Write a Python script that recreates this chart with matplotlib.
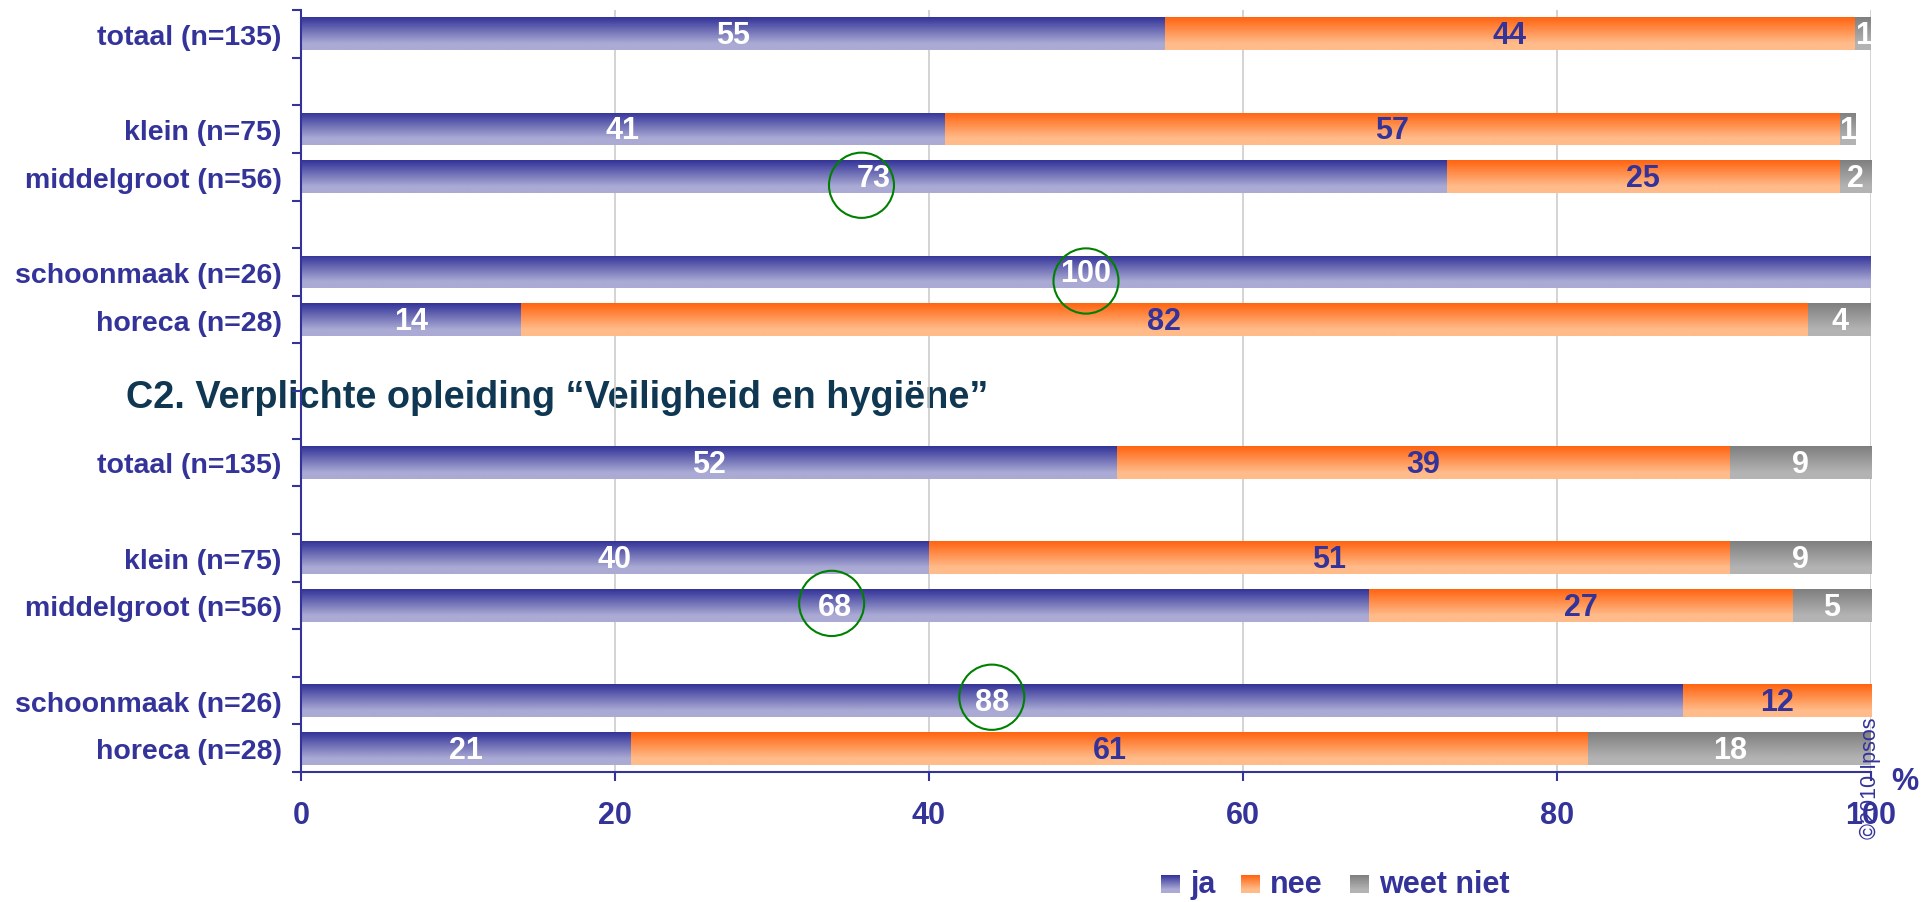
import numpy as np
import matplotlib.pyplot as plt
from matplotlib.patches import Ellipse
from matplotlib.colors import to_rgb

plt.rcParams['font.family'] = ['Liberation Sans', 'DejaVu Sans']

# categorieën, zelfde volgorde in beide blokken
categories = ['totaal (n=135)', 'klein (n=75)', 'middelgroot (n=56)',
              'schoonmaak (n=26)', 'horeca (n=28)']
rows_top = [0, 2, 3, 5, 6]
rows_bottom = [9, 11, 12, 14, 15]

# bovenste blok
ja_top = [55, 41, 73, 100, 14]
nee_top = [44, 57, 25, 0, 82]
weetniet_top = [1, 1, 2, 0, 4]

# C2. Verplichte opleiding "Veiligheid en hygiëne"
ja_bottom = [52, 40, 68, 88, 21]
nee_bottom = [39, 51, 27, 12, 61]
weetniet_bottom = [9, 9, 5, 0, 18]

series = ['ja', 'nee', 'weet niet']
grad_top = ['#333399', '#ff6410', '#7f7f7f']
grad_bottom = ['#aaaad4', '#ffbb8a', '#b3b3b3']
label_colors = ['white', '#333399', 'white']

# omcirkelde waarden (rij, x-midden)
circle_rows = [3.18, 5.19, 11.96, 13.93]
circle_x = [35.7, 50.0, 33.8, 44.0]

xticks = [0, 20, 40, 60, 80, 100]
title = 'C2. Verplichte opleiding \u201cVeiligheid en hygi\u00ebne\u201d'

blue = '#333399'
W, H = 1928, 903


def gradient(top, bottom, n=64):
    t = np.clip(np.linspace(0, 1, n) / 0.8, 0, 1)
    c0, c1 = np.array(to_rgb(top)), np.array(to_rgb(bottom))
    return (c0 + (c1 - c0) * t[:, None])[:, None, :]


fig = plt.figure(figsize=(W / 100, H / 100), dpi=100)
ax = fig.add_axes([301 / W, (H - 773) / H, 1570 / W, 762 / H])

rows = rows_top + rows_bottom
data = [ja_top + ja_bottom, nee_top + nee_bottom, weetniet_top + weetniet_bottom]

left = np.zeros(len(rows))
for k, vals in enumerate(data):
    vals = np.array(vals, dtype=float)
    bars = ax.barh(rows, vals, left=left, height=0.69, color='none',
                   edgecolor='none', zorder=2)
    g = gradient(grad_top[k], grad_bottom[k])
    for bar, v in zip(bars, vals):
        if v <= 0:
            continue
        x0, y0 = bar.get_xy()
        im = ax.imshow(g, extent=(x0, x0 + bar.get_width(), y0 + bar.get_height(), y0),
                       aspect='auto', interpolation='bilinear', zorder=2)
        im.set_clip_path(bar)
        ax.text(x0 + bar.get_width() / 2, bar.get_y() + bar.get_height() / 2 + 0.03,
                f'{int(v)}', ha='center', va='center', fontsize=22,
                fontweight='bold', color=label_colors[k], zorder=5)
    left += vals

for cy, cx in zip(circle_rows, circle_x):
    ax.add_patch(Ellipse((cx, cy), width=4.14, height=1.37, fill=False,
                         edgecolor='#008000', linewidth=1.5, zorder=6))

ax.set_xlim(0, 100)
ax.set_ylim(15.5, -0.5)
ax.set_axisbelow(True)
ax.grid(axis='x', color='#cccccc', linewidth=1.2)
ax.grid(axis='y', visible=False)

ax.set_xticks(xticks)
ax.set_xticklabels([str(t) for t in xticks], fontsize=22, fontweight='bold', color=blue)
ax.tick_params(axis='x', length=6.5, width=1.5, color=blue, pad=14)

ax.set_yticks(np.arange(-0.5, 16, 1.0))
ax.set_yticklabels([])
ax.tick_params(axis='y', which='major', length=6.5, width=1.5, color=blue)
ax.set_yticks(rows, minor=True)
ax.set_yticklabels(categories + categories, minor=True, fontsize=20.5,
                   fontweight='bold', color=blue)
ax.tick_params(axis='y', which='minor', length=0, pad=14)

for s in ['top', 'right']:
    ax.spines[s].set_visible(False)
for s in ['left', 'bottom']:
    ax.spines[s].set_color(blue)
    ax.spines[s].set_linewidth(1.5)

ax.text(16.3, 7.63, title, ha='center', va='center', fontsize=27.3,
        fontweight='bold', color='#0f3752', zorder=0.4)

# legenda
leg_x = [1161, 1241, 1350]
for k, name in enumerate(series):
    sw = fig.add_axes([leg_x[k] / W, (H - 894) / H, 19 / W, 18 / H])
    sw.imshow(gradient(grad_top[k], grad_bottom[k]), aspect='auto', interpolation='bilinear')
    sw.axis('off')
    fig.text((leg_x[k] + 29) / W, 1 - 885 / H, name, ha='left', va='center',
             fontsize=22, fontweight='bold', color=blue)

fig.text(1905 / W, 1 - 782 / H, '%', ha='center', va='center', fontsize=22,
         fontweight='bold', color=blue)
fig.text(1870 / W, 1 - 778 / H, '\u00a92010 Ipsos', rotation=90, ha='center',
         va='center', fontsize=15.5, color=blue)

fig.savefig('out.png', dpi=100)
